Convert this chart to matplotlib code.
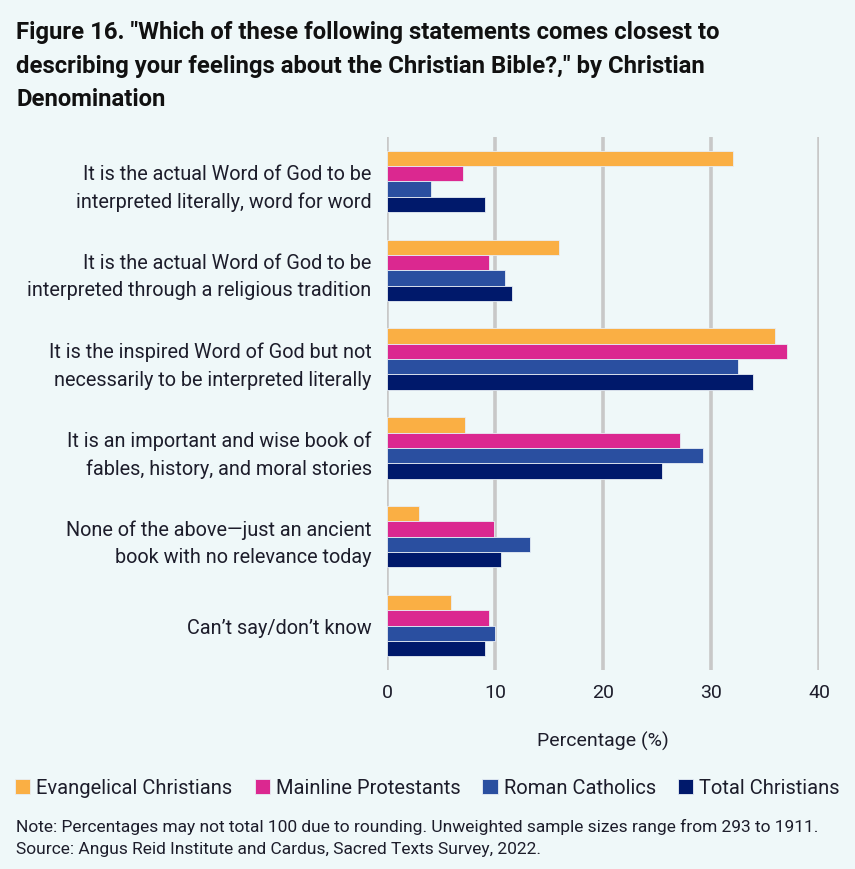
import numpy as np
import matplotlib
matplotlib.use("Agg")
import matplotlib.pyplot as plt

plt.rcParams['font.family'] = ['Roboto', 'DejaVu Sans']

categories = [
    "It is the actual Word of God to be\ninterpreted literally, word for word",
    "It is the actual Word of God to be\ninterpreted through a religious tradition",
    "It is the inspired Word of God but not\nnecessarily to be interpreted literally",
    "It is an important and wise book of\nfables, history, and moral stories",
    "None of the above\u2014just an ancient\nbook with no relevance today",
    "Can\u2019t say/don\u2019t know",
]
series_names = ["Evangelical Christians", "Mainline Protestants",
                "Roman Catholics", "Total Christians"]
evangelical = [32.0, 15.9, 35.9, 7.2, 3.0, 5.9]
mainline = [7.0, 9.4, 37.0, 27.1, 9.9, 9.4]
catholic = [4.1, 10.9, 32.5, 29.3, 13.2, 10.0]
total = [9.1, 11.6, 33.9, 25.5, 10.6, 9.1]
colors = ["#FAAF44", "#DB2890", "#2A4FA0", "#00196B"]
xticks = [0, 10, 20, 30, 40]

bg = "#EFF8F9"
txt = "#1d1d2b"

fig = plt.figure(figsize=(8.55, 8.7), dpi=100, facecolor=bg)
ax = fig.add_axes([387 / 855, 1 - 671 / 870, 432 / 855, 533 / 870])
ax.set_facecolor(bg)

y = np.arange(len(categories))
h = 0.1725
for i, (vals, c, name) in enumerate(zip([evangelical, mainline, catholic, total],
                                        colors, series_names)):
    ax.barh(y + (i - 1.5) * h, vals, height=h, color=c, label=name,
            edgecolor="#e8eef5", linewidth=0.6, zorder=3)

ax.set_ylim(len(categories) - 0.5, -0.5)
ax.set_xlim(0, 40)
ax.set_xticks(xticks)
ax.set_xticklabels([str(t) for t in xticks], fontsize=14, color=txt)
ax.set_yticks(y)
ax.set_yticklabels(categories, fontsize=14.3, color=txt, linespacing=1.55)
ax.tick_params(axis="both", length=0)
ax.tick_params(axis="y", pad=11)
ax.tick_params(axis="x", pad=9)
ax.grid(axis="x", color="#C8C8C8", linewidth=2.6, zorder=0)
for s in ax.spines.values():
    s.set_visible(False)
ax.set_xlabel("Percentage (%)", fontsize=14, color=txt, labelpad=22)

title_lines = [
    "Figure 16. \"Which of these following statements comes closest to",
    "describing your feelings about the Christian Bible?,\" by Christian",
    "Denomination",
]
for k, line in enumerate(title_lines):
    fig.text(16 / 855, 1 - (33 + 33.5 * k) / 870, line,
             fontsize=17.2, fontweight="bold", color="#111111", va="center")

fig.legend(loc="center left", bbox_to_anchor=(-3 / 855, 1 - 789 / 870),
           ncol=4, frameon=False, fontsize=14.5, handlelength=0.75,
           handleheight=0.75, handletextpad=0.3, columnspacing=1.1,
           labelcolor=txt)

fig.text(16 / 855, 1 - 827 / 870,
         "Note: Percentages may not total 100 due to rounding. "
         "Unweighted sample sizes range from 293 to 1911.",
         fontsize=12.5, color=txt, va="center")
fig.text(16 / 855, 1 - 850 / 870,
         "Source: Angus Reid Institute and Cardus, Sacred Texts Survey, 2022.",
         fontsize=12.5, color=txt, va="center")

fig.savefig("out.png", dpi=100, facecolor=bg)
